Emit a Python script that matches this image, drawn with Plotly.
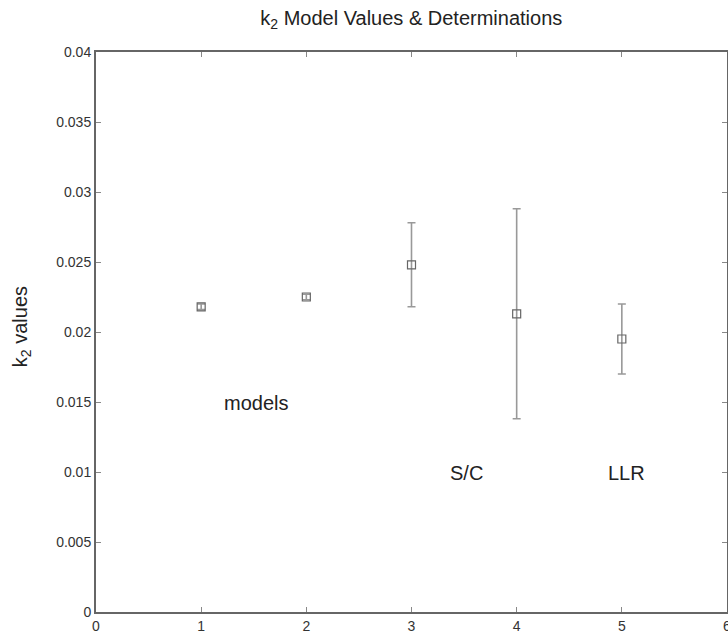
import plotly.graph_objects as go

x_vals = [1, 2, 3, 4, 5]
k2_vals = [0.0218, 0.0225, 0.0248, 0.0213, 0.0195]
k2_err = [0.0002, 0.0002, 0.0030, 0.0075, 0.0025]

label_text = ["models", "S/C", "LLR"]
label_x = [1.52, 3.52, 5.04]
label_y = [0.0149, 0.00995, 0.00995]

x_ticks = [0, 1, 2, 3, 4, 5, 6]
y_ticks = [0, 0.005, 0.01, 0.015, 0.02, 0.025, 0.03, 0.035, 0.04]
y_tick_text = ["0", "0.005", "0.01", "0.015", "0.02", "0.025", "0.03", "0.035", "0.04"]

FONT = "Liberation Sans, Arial, sans-serif"

fig = go.Figure()
fig.add_trace(go.Scatter(
    x=x_vals, y=k2_vals, mode="markers",
    marker=dict(symbol="square-open", size=8, color="#666", line=dict(width=1.2, color="#666")),
    error_y=dict(type="data", array=k2_err, visible=True, color="#999", thickness=1.6, width=4),
    showlegend=False,
))

for t, lx, ly in zip(label_text, label_x, label_y):
    fig.add_annotation(x=lx, y=ly, text=t, showarrow=False,
                       font=dict(family=FONT, size=20, color="#222"))

# y-axis title
fig.add_annotation(xref="paper", yref="paper", x=-0.117, y=0.509, text="k<sub>2</sub> values",
                   textangle=-90, showarrow=False, xanchor="center", yanchor="middle",
                   font=dict(family=FONT, size=20, color="#222"))

axis_common = dict(
    showgrid=False, zeroline=False, showline=True, linecolor="#666", linewidth=2,
    mirror="ticks", ticks="inside", ticklen=5, tickcolor="#888", tickwidth=1,
    tickfont=dict(family=FONT, size=14, color="#333"), automargin=False,
    ticklabeloverflow="allow",
)

fig.update_layout(
    width=728, height=638,
    margin=dict(l=96, r=1, t=52, b=26),
    paper_bgcolor="white", plot_bgcolor="white",
    title=dict(text="k<sub>2</sub> Model Values & Determinations", x=0.565, xanchor="center",
               xref="container", yref="container", y=0.972, yanchor="middle",
               font=dict(family=FONT, size=20, color="#222")),
    xaxis=dict(range=[0, 6], tickvals=x_ticks, ticktext=[str(v) for v in x_ticks], **axis_common),
    yaxis=dict(range=[0, 0.04], tickvals=y_ticks, ticktext=y_tick_text, **axis_common),
)

fig.write_html("out.html", config={"displayModeBar": False},
               post_script="document.body.style.margin='0';document.body.style.overflow='hidden';")
